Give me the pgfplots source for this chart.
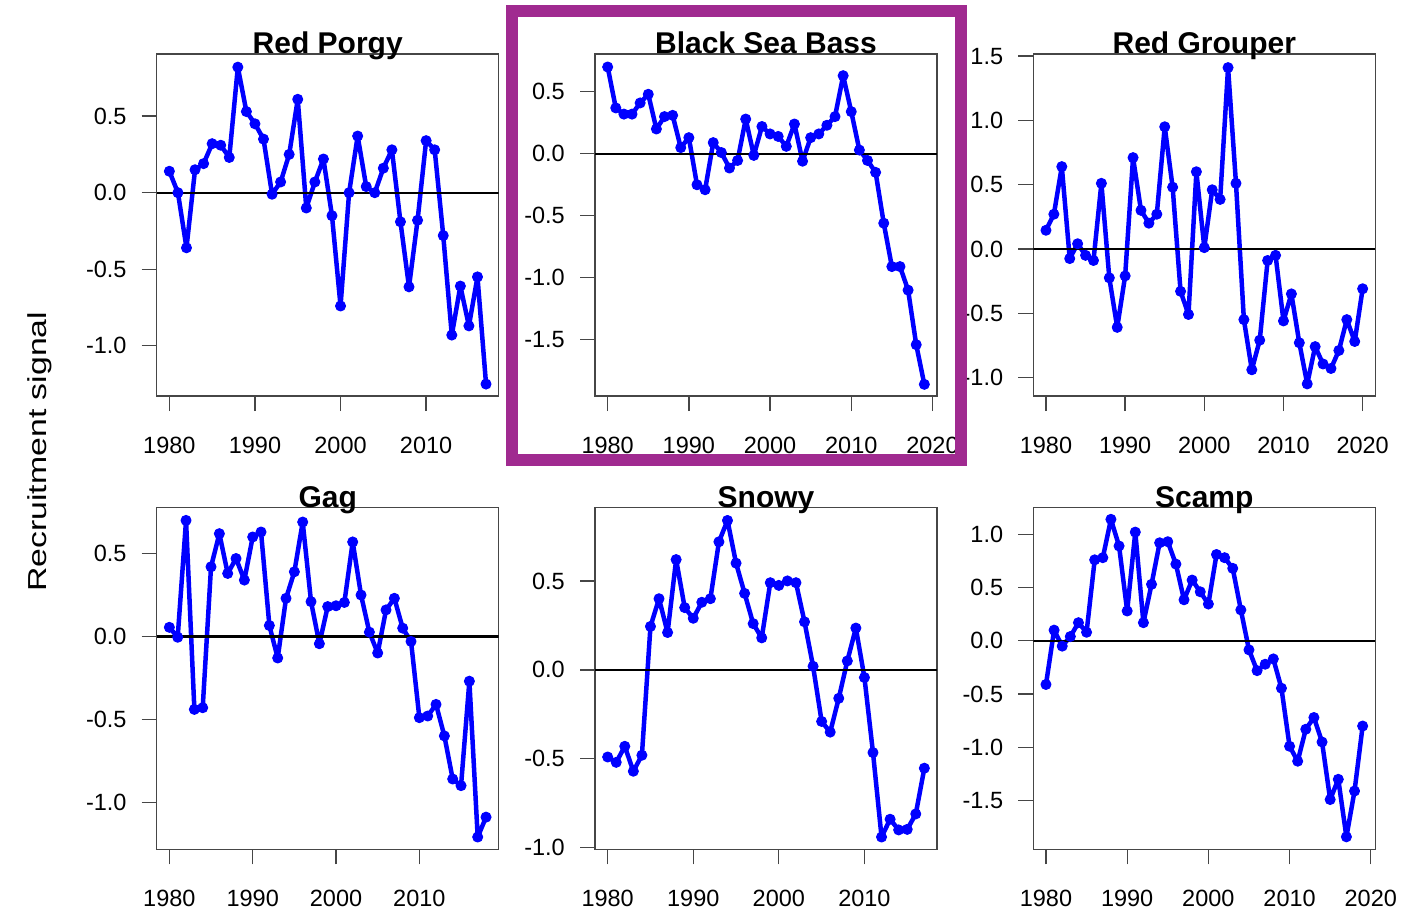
\documentclass[border=0pt]{standalone}
\usepackage{graphicx}
\usepackage{fontspec}
\setmainfont{Liberation Sans}
\usepackage{pgfplots}
\pgfplotsset{compat=1.18}
\definecolor{boxgray}{RGB}{70,70,70}
\definecolor{rblue}{RGB}{0,0,255}
\definecolor{hl}{RGB}{160,42,144}
\pgfplotsset{
  rpanel/.style={
    scale only axis, width=342pt, height=342pt,
    anchor=south west,
    axis line style={boxgray, line width=1.3pt},
    every tick/.style={boxgray, line width=1.3pt},
    tick align=outside, major tick length=15pt,
    xtick pos=left, ytick pos=left,
    xtick={1980,1990,2000,2010,2020},
    xticklabels={1980,1990,2000,2010,2020},
    ticklabel style={font=\fontsize{23.5}{23.5}\selectfont, inner sep=0pt},
    xticklabel style={anchor=north},
    yticklabel style={anchor=east},
    xticklabel shift=26pt,
    yticklabel shift=15pt,
    title style={font=\bfseries\fontsize{30}{30}\selectfont, anchor=base, at={(0.5,1)}, inner sep=0pt, yshift=-6pt},
  },
  rline/.style={rblue, line width=4.5pt, line join=round,
    mark=*, mark size=5pt, mark options={line width=1pt, fill=rblue, draw=rblue}},
  zline/.style={black, line width=2.3pt, mark=none},
}
\begin{document}
\begin{tikzpicture}
\useasboundingbox (0pt,0pt) rectangle (1402pt,911pt);

% Red Porgy
\begin{axis}[rpanel, at={(156.7pt,515pt)}, title={Red Porgy},
  xmin=1978.52, xmax=2018.48, ymin=-1.328, ymax=0.906,
  ytick={-1,-0.5,0,0.5}, yticklabels={-1.0,-0.5,0.0,0.5}]
\addplot[rline] coordinates {
(1980,0.14)(1981,0.00)(1982,-0.36)(1983,0.15)(1984,0.19)(1985,0.32)(1986,0.31)(1987,0.23)
(1988,0.82)(1989,0.53)(1990,0.45)(1991,0.35)(1992,-0.01)(1993,0.07)(1994,0.25)(1995,0.61)
(1996,-0.10)(1997,0.07)(1998,0.22)(1999,-0.15)(2000,-0.74)(2001,0.00)(2002,0.37)(2003,0.04)
(2004,0.00)(2005,0.16)(2006,0.28)(2007,-0.19)(2008,-0.615)(2009,-0.18)(2010,0.34)(2011,0.28)
(2012,-0.28)(2013,-0.93)(2014,-0.61)(2015,-0.87)(2016,-0.55)(2017,-1.25)};
\addplot[zline] coordinates {(1978.52,0)(2018.48,0)};
\end{axis}

% Black Sea Bass
\begin{axis}[rpanel, at={(595pt,515pt)}, title={Black Sea Bass},
  xmin=1978.44, xmax=2020.56, ymin=-1.954, ymax=0.805,
  ytick={-1.5,-1,-0.5,0,0.5}, yticklabels={-1.5,-1.0,-0.5,0.0,0.5}]
\addplot[rline] coordinates {
(1980,0.70)(1981,0.37)(1982,0.32)(1983,0.32)(1984,0.41)(1985,0.48)(1986,0.20)(1987,0.30)
(1988,0.31)(1989,0.05)(1990,0.13)(1991,-0.25)(1992,-0.29)(1993,0.09)(1994,0.01)(1995,-0.115)
(1996,-0.054)(1997,0.28)(1998,-0.013)(1999,0.22)(2000,0.16)(2001,0.14)(2002,0.06)(2003,0.24)
(2004,-0.06)(2005,0.13)(2006,0.16)(2007,0.23)(2008,0.30)(2009,0.63)(2010,0.34)(2011,0.03)
(2012,-0.054)(2013,-0.15)(2014,-0.56)(2015,-0.91)(2016,-0.91)(2017,-1.10)(2018,-1.54)(2019,-1.86)};
\addplot[zline] coordinates {(1978.44,0)(2020.56,0)};
\end{axis}

% Red Grouper
\begin{axis}[rpanel, at={(1033.3pt,515pt)}, title={Red Grouper},
  xmin=1978.4, xmax=2021.6, ymin=-1.144, ymax=1.516,
  ytick={-1,-0.5,0,0.5,1,1.5}, yticklabels={-1.0,-0.5,0.0,0.5,1.0,1.5}]
\addplot[rline] coordinates {
(1980,0.145)(1981,0.27)(1982,0.64)(1983,-0.075)(1984,0.04)(1985,-0.05)(1986,-0.09)(1987,0.51)
(1988,-0.225)(1989,-0.61)(1990,-0.21)(1991,0.71)(1992,0.30)(1993,0.20)(1994,0.27)(1995,0.95)
(1996,0.48)(1997,-0.33)(1998,-0.51)(1999,0.60)(2000,0.01)(2001,0.46)(2002,0.385)(2003,1.41)
(2004,0.51)(2005,-0.55)(2006,-0.94)(2007,-0.71)(2008,-0.09)(2009,-0.05)(2010,-0.56)(2011,-0.35)
(2012,-0.73)(2013,-1.05)(2014,-0.76)(2015,-0.895)(2016,-0.93)(2017,-0.79)(2018,-0.55)(2019,-0.72)
(2020,-0.31)};
\addplot[zline] coordinates {(1978.4,0)(2021.6,0)};
\end{axis}

% Gag
\begin{axis}[rpanel, at={(156.7pt,61.7pt)}, title={Gag},
  xmin=1978.48, xmax=2019.52, ymin=-1.284, ymax=0.779,
  ytick={-1,-0.5,0,0.5}, yticklabels={-1.0,-0.5,0.0,0.5}]
\addplot[rline] coordinates {
(1980,0.055)(1981,-0.005)(1982,0.70)(1983,-0.44)(1984,-0.43)(1985,0.42)(1986,0.62)(1987,0.38)
(1988,0.47)(1989,0.34)(1990,0.60)(1991,0.63)(1992,0.066)(1993,-0.13)(1994,0.23)(1995,0.39)
(1996,0.69)(1997,0.21)(1998,-0.044)(1999,0.18)(2000,0.185)(2001,0.205)(2002,0.57)(2003,0.25)
(2004,0.026)(2005,-0.10)(2006,0.16)(2007,0.23)(2008,0.05)(2009,-0.03)(2010,-0.49)(2011,-0.48)
(2012,-0.41)(2013,-0.60)(2014,-0.86)(2015,-0.90)(2016,-0.27)(2017,-1.21)(2018,-1.09)};
\addplot[zline] coordinates {(1978.48,0)(2019.52,0)};
\end{axis}

% Snowy
\begin{axis}[rpanel, at={(595pt,61.7pt)}, title={Snowy},
  xmin=1978.52, xmax=2018.48, ymin=-1.009, ymax=0.914,
  ytick={-1,-0.5,0,0.5}, yticklabels={-1.0,-0.5,0.0,0.5}]
\addplot[rline] coordinates {
(1980,-0.49)(1981,-0.52)(1982,-0.43)(1983,-0.57)(1984,-0.48)(1985,0.244)(1986,0.40)(1987,0.21)
(1988,0.62)(1989,0.35)(1990,0.29)(1991,0.38)(1992,0.40)(1993,0.72)(1994,0.84)(1995,0.60)
(1996,0.43)(1997,0.26)(1998,0.18)(1999,0.49)(2000,0.475)(2001,0.50)(2002,0.49)(2003,0.27)
(2004,0.02)(2005,-0.29)(2006,-0.35)(2007,-0.16)(2008,0.05)(2009,0.235)(2010,-0.043)(2011,-0.465)
(2012,-0.94)(2013,-0.84)(2014,-0.90)(2015,-0.897)(2016,-0.81)(2017,-0.553)};
\addplot[zline] coordinates {(1978.52,0)(2018.48,0)};
\end{axis}

% Scamp
\begin{axis}[rpanel, at={(1033.3pt,61.7pt)}, title={Scamp},
  xmin=1978.44, xmax=2020.56, ymin=-1.957, ymax=1.253,
  ytick={-1.5,-1,-0.5,0,0.5,1}, yticklabels={-1.5,-1.0,-0.5,0.0,0.5,1.0}]
\addplot[rline] coordinates {
(1980,-0.41)(1981,0.10)(1982,-0.05)(1983,0.04)(1984,0.17)(1985,0.08)(1986,0.76)(1987,0.78)
(1988,1.14)(1989,0.89)(1990,0.28)(1991,1.02)(1992,0.17)(1993,0.53)(1994,0.92)(1995,0.93)
(1996,0.72)(1997,0.385)(1998,0.57)(1999,0.46)(2000,0.345)(2001,0.81)(2002,0.78)(2003,0.68)
(2004,0.29)(2005,-0.085)(2006,-0.28)(2007,-0.22)(2008,-0.17)(2009,-0.445)(2010,-0.99)(2011,-1.13)
(2012,-0.83)(2013,-0.72)(2014,-0.95)(2015,-1.49)(2016,-1.30)(2017,-1.84)(2018,-1.41)(2019,-0.80)};
\addplot[zline] coordinates {(1978.44,0)(2020.56,0)};
\end{axis}

\node[rotate=90, anchor=base, inner sep=0pt, font=\fontsize{26}{26}\selectfont] at (46.7pt,459.3pt) {\scalebox{1.3}[1]{Recruitment signal}};
\draw[hl, line width=11.7pt] (512pt,900.2pt) rectangle (961pt,451pt);
\end{tikzpicture}
\end{document}
